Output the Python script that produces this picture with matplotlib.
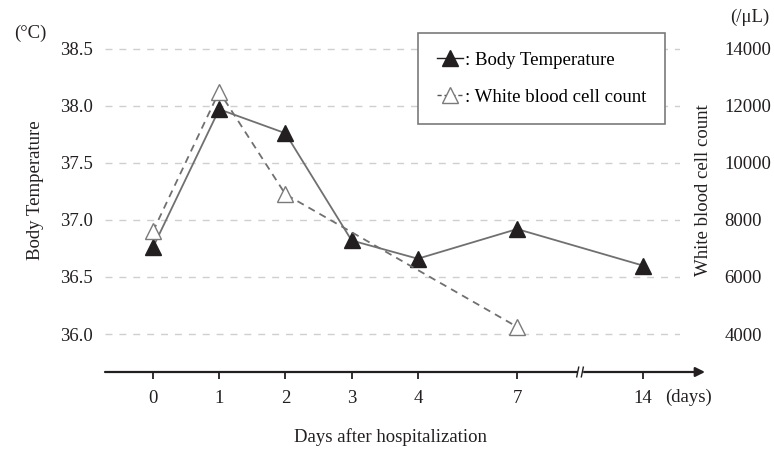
import matplotlib.pyplot as plt
from matplotlib.lines import Line2D
from matplotlib.transforms import blended_transform_factory

plt.rcParams['font.family'] = ['Liberation Serif', 'DejaVu Serif']

days = [0, 1, 2, 3, 4, 7, 14]
body_temp = [36.76, 37.97, 37.76, 36.82, 36.66, 36.92, 36.60]
wbc_days = [0, 1, 2, 7]
wbc = [7600, 12500, 8900, 4250]
temp_ticks = [36.0, 36.5, 37.0, 37.5, 38.0, 38.5]
wbc_ticks = [4000, 6000, 8000, 10000, 12000, 14000]

FS = 13.5
INK = '#231f20'


def day_pos(d):
    # broken axis: 0-4 evenly spaced, 7 and 14 squeezed in after
    if d <= 4:
        return d
    if d <= 7:
        return 4 + (d - 4) * 0.5
    return 5.5 + (d - 7) * (1.9 / 7)


def temp_to_wbc(t):
    return 4000 + (t - 36.0) * 4000


fig = plt.figure(figsize=(7.74, 4.5), dpi=100)
ax = fig.add_axes([105 / 774, 1 - 372 / 450, 575 / 774, (372 - 26) / 450])
ylo, yhi = 35.667, 38.7
ax.set_ylim(ylo, yhi)
ax.set_xlim(-0.725, 7.96)

for t in temp_ticks:
    ax.axhline(t, color='#cfcfcf', lw=1, ls=(0, (5, 5)), zorder=0)

for s in ax.spines.values():
    s.set_visible(False)

xs = [day_pos(d) for d in days]
ax.plot(xs, body_temp, color='#707070', lw=1.3, zorder=2)
ax.plot(xs, body_temp, ls='none', marker='^', ms=11, color=INK, zorder=4)

ax2 = ax.twinx()
ax2.set_ylim(temp_to_wbc(ylo), temp_to_wbc(yhi))
for s in ax2.spines.values():
    s.set_visible(False)
wx = [day_pos(d) for d in wbc_days]
ax2.plot(wx, wbc, color='#707070', lw=1.3, ls=(0, (4, 3)), zorder=2)
ax2.plot(wx, wbc, ls='none', marker='^', ms=11, mfc='white', mec='#7a7a7a', mew=1, zorder=3)

ax.set_yticks(temp_ticks)
ax.set_yticklabels([f'{t:.1f}' for t in temp_ticks])
ax.tick_params(axis='y', length=0, pad=9, labelsize=FS, colors=INK)
ax2.set_yticks(wbc_ticks)
ax2.tick_params(axis='y', length=0, pad=32, labelsize=FS, colors=INK)

ax.set_xticks(xs)
ax.set_xticklabels([str(d) for d in days])
ax.tick_params(axis='x', direction='out', length=5, width=1.3, pad=8,
               labelsize=FS, colors=INK)

# x axis line with arrow
ax.annotate('', xy=(600 / 575, 0), xytext=(0, 0), xycoords='axes fraction',
            arrowprops=dict(arrowstyle='-|>', color=INK, lw=1.6,
                            mutation_scale=14, shrinkA=0, shrinkB=0),
            annotation_clip=False)

# axis break mark between 7 and 14
bx = (day_pos(7) + day_pos(14)) / 2
tr = blended_transform_factory(ax.transData, ax.transAxes)
ax.fill_between([bx - 0.03, bx + 0.03], -0.02, 0.02, color='white',
                transform=tr, clip_on=False, zorder=6)
for dx in (-0.035, 0.035):
    ax.plot([bx + dx - 0.015, bx + dx + 0.015], [-0.014, 0.014], color=INK,
            lw=1, transform=tr, clip_on=False, zorder=7)

fig.text(688 / 774, 1 - 397 / 450, '(days)', fontsize=FS, ha='center',
         va='center', color=INK)
fig.text(390 / 774, 1 - 437 / 450, 'Days after hospitalization', fontsize=FS,
         ha='center', va='center', color=INK)
fig.text(35 / 774, 1 - 190 / 450, 'Body Temperature', rotation=90, fontsize=FS,
         ha='center', va='center', color=INK)
fig.text(30 / 774, 1 - 33 / 450, '(°C)', fontsize=FS, ha='center', va='center',
         color=INK)
fig.text(703 / 774, 1 - 190 / 450, 'White blood cell count', rotation=90,
         fontsize=FS, ha='center', va='center', color=INK)
fig.text(750 / 774, 1 - 17 / 450, '(/μL)', fontsize=FS, ha='center', va='center',
         color=INK)

handles = [
    Line2D([], [], color=INK, lw=1, marker='^', ms=11),
    Line2D([], [], color='#555555', lw=1, ls=(0, (3, 2)), marker='^', ms=11,
           mfc='white', mec='#7a7a7a'),
]
leg = ax.legend(handles, [': Body Temperature', ': White blood cell count'],
                loc='upper left', bbox_to_anchor=((418 - 105) / 575, 1 - (33 - 26) / 346),
                borderaxespad=0, fontsize=FS, handlelength=1.4, handletextpad=0.1,
                borderpad=1.0, labelspacing=1.05, fancybox=False, framealpha=1,
                edgecolor='#7a7a7a')
leg.get_frame().set_linewidth(1.2)

fig.savefig('out.png', dpi=100)
